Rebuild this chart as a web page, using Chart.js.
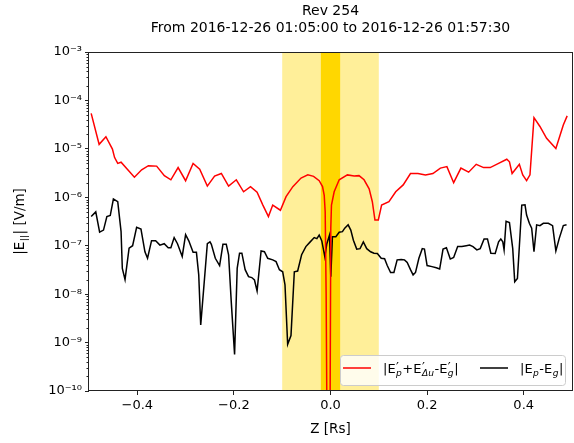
<!DOCTYPE html>
<html>
<head>
<meta charset="utf-8">
<script src="https://cdn.jsdelivr.net/npm/chart.js@4.4.1/dist/chart.umd.min.js"></script>
<style>
	html, body { margin: 0; padding: 0; background: #fff; }
</style>
</head>
<body>
<canvas id="myChart" width="574" height="443"></canvas>
<script>
//****chart data
var titleLines = ['Rev 254', 'From 2016-12-26 01:05:00 to 2016-12-26 01:57:30'];
var xLabel = 'Z [Rs]';
var xTicks = [-0.4, -0.2, 0.0, 0.2, 0.4];
var yTicks = [1e-10, 1e-9, 1e-8, 1e-7, 1e-6, 1e-5, 1e-4, 1e-3];
var outerBand = [-0.1, 0.1];
var innerBand = [-0.02, 0.02];

// |E'p+E'du-E'g| (red)
var redZ = [-0.4955, -0.479, -0.465, -0.4515, -0.447, -0.4405, -0.4336, -0.406, -0.391, -0.377,
	-0.360, -0.344, -0.3305, -0.3155, -0.300, -0.2845, -0.2708, -0.255, -0.240, -0.226,
	-0.211, -0.195, -0.180, -0.1656, -0.152, -0.140, -0.1285, -0.1196, -0.1037, -0.092,
	-0.078, -0.061, -0.047, -0.035, -0.0234, -0.0165, -0.013, -0.011, -0.009, -0.0065,
	-0.0015, 0.0006, 0.002, 0.0076, 0.018, 0.035, 0.049, 0.059, 0.0695, 0.080,
	0.0866, 0.092, 0.099, 0.1058, 0.121, 0.135, 0.1505, 0.1656, 0.181, 0.1966,
	0.212, 0.2275, 0.241, 0.255, 0.270, 0.286, 0.3017, 0.317, 0.3306, 0.348,
	0.365, 0.3705, 0.376, 0.391, 0.398, 0.406, 0.413, 0.4213, 0.4336, 0.4474,
	0.4666, 0.482, 0.490];
var redE = [5.4e-5, 1.24e-5, 1.78e-5, 9.9e-6, 6.6e-6, 5.0e-6, 5.3e-6, 2.6e-6, 3.7e-6, 4.5e-6,
	4.4e-6, 2.8e-6, 2.3e-6, 4.1e-6, 2.2e-6, 5.0e-6, 3.8e-6, 1.7e-6, 2.75e-6, 3.1e-6,
	1.7e-6, 2.3e-6, 1.3e-6, 1.66e-6, 1.27e-6, 6.9e-7, 4.0e-7, 6.9e-7, 5.4e-7, 1.03e-6,
	1.66e-6, 2.5e-6, 2.9e-6, 2.7e-6, 2.2e-6, 1.66e-6, 1.1e-6, 5e-7, 9.5e-9, 1e-12,
	1e-12, 2.3e-7, 6.9e-7, 1.3e-6, 2.3e-6, 2.9e-6, 2.75e-6, 2.8e-6, 2.3e-6, 1.5e-6,
	8.1e-7, 3.4e-7, 3.4e-7, 6.9e-7, 8.1e-7, 1.3e-6, 1.8e-6, 3.1e-6, 3.1e-6, 2.9e-6,
	3.1e-6, 4.0e-6, 4.3e-6, 2.0e-6, 4.0e-6, 3.3e-6, 4.8e-6, 4.1e-6, 4.1e-6, 5.0e-6,
	6.1e-6, 5.4e-6, 3.1e-6, 4.8e-6, 2.9e-6, 2.2e-6, 2.9e-6, 4.4e-5, 2.9e-5, 1.65e-5,
	1.02e-5, 3.1e-5, 4.8e-5];

// |Ep-Eg| (black)
var blackZ = [-0.4955, -0.486, -0.478, -0.470, -0.463, -0.456, -0.4495, -0.4405, -0.4336, -0.431,
	-0.4254, -0.417, -0.4097, -0.4014, -0.3924, -0.3842, -0.3788, -0.3705, -0.362, -0.3532,
	-0.3443, -0.336, -0.3305, -0.3237, -0.3168, -0.307, -0.300, -0.2934, -0.2845, -0.2776,
	-0.2728, -0.2687, -0.2619, -0.255, -0.2495, -0.2467, -0.2385, -0.2296, -0.2227, -0.2158,
	-0.211, -0.2055, -0.1986, -0.1932, -0.1883, -0.1835, -0.1767, -0.1697, -0.163, -0.1574,
	-0.152, -0.1437, -0.1368, -0.130, -0.1196, -0.1127, -0.1058, -0.099, -0.0942, -0.0887,
	-0.0818, -0.0749, -0.068, -0.0598, -0.051, -0.042, -0.0337, -0.0282, -0.0234, -0.018,
	-0.0117, -0.0076, -0.002, 0.0006, 0.004, 0.011, 0.018, 0.0247, 0.0295, 0.0365,
	0.042, 0.0474, 0.0543, 0.0612, 0.068, 0.075, 0.0831, 0.090, 0.097, 0.105,
	0.112, 0.1175, 0.1244, 0.1313, 0.138, 0.1464, 0.1532, 0.1588, 0.1656, 0.171,
	0.176, 0.183, 0.190, 0.1945, 0.200, 0.210, 0.219, 0.226, 0.233, 0.240,
	0.248, 0.255, 0.2633, 0.272, 0.281, 0.288, 0.295, 0.303, 0.310, 0.318,
	0.325, 0.332, 0.341, 0.348, 0.3526, 0.3567, 0.3594, 0.3635, 0.3705, 0.3773,
	0.3814, 0.387, 0.3924, 0.396, 0.4027, 0.406, 0.4117, 0.4165, 0.4213, 0.4268,
	0.4336, 0.4406, 0.451, 0.4598, 0.4666, 0.4736, 0.482, 0.4887];
var blackE = [4.0e-7, 5.0e-7, 1.9e-7, 2.1e-7, 4.0e-7, 4.2e-7, 9.2e-7, 8.1e-7, 1.95e-7, 3.4e-8,
	2.0e-8, 8.9e-8, 1.0e-7, 2.4e-7, 2.2e-7, 7.5e-8, 5.5e-8, 1.27e-7, 1.27e-7, 1.03e-7,
	1.1e-7, 9.1e-8, 9.1e-8, 1.47e-7, 1.1e-7, 6.0e-8, 1.7e-7, 1.26e-7, 7.3e-8, 7.3e-8,
	2.5e-8, 2.3e-9, 1.55e-8, 1.1e-7, 1.2e-7, 1.07e-7, 5.5e-8, 3.9e-8, 1.07e-7, 1.07e-7,
	6.5e-8, 7.0e-9, 5.7e-10, 3.4e-8, 7.0e-8, 7.0e-8, 3.2e-8, 2.3e-8, 2.2e-8, 1.96e-8,
	1.16e-8, 7.8e-8, 7.5e-8, 5.5e-8, 5.1e-8, 4.7e-8, 3.2e-8, 2.9e-8, 1.55e-8, 9.2e-10,
	1.4e-9, 2.9e-8, 3.0e-8, 6.5e-8, 9.6e-8, 1.2e-7, 1.47e-7, 1.4e-7, 1.66e-7, 1.26e-7,
	5.9e-8, 1.1e-7, 1.66e-7, 2.3e-8, 1.53e-7, 1.53e-7, 1.9e-7, 1.95e-7, 2.3e-7, 2.7e-7,
	2.1e-7, 1.3e-7, 8.5e-8, 8.7e-8, 1.2e-7, 8.7e-8, 7.5e-8, 7.0e-8, 6.9e-8, 5.5e-8,
	5.4e-8, 3.9e-8, 2.8e-8, 2.8e-8, 5.1e-8, 5.2e-8, 5.1e-8, 4.5e-8, 3.2e-8, 2.5e-8,
	2.8e-8, 5.5e-8, 8.7e-8, 8.5e-8, 3.9e-8, 3.7e-8, 3.5e-8, 3.3e-8, 8.5e-8, 9.1e-8,
	5.3e-8, 5.7e-8, 9.6e-8, 9.6e-8, 1.0e-7, 1.03e-7, 9.6e-8, 8.2e-8, 8.7e-8, 1.38e-7,
	1.38e-7, 7.0e-8, 6.9e-8, 1.2e-7, 1.38e-7, 1.2e-7, 8.2e-8, 3.2e-7, 3.0e-7, 8.7e-8,
	1.8e-8, 2.1e-8, 1.66e-7, 6.9e-7, 7.0e-7, 4.3e-7, 2.9e-7, 2.3e-7, 7.5e-8, 2.7e-7,
	2.6e-7, 2.9e-7, 2.9e-7, 2.6e-7, 7.8e-8, 1.42e-7, 2.6e-7, 2.7e-7];

// rich text pieces: [text] or [superscript, subscript]
var legendLabels = [
	[['|E'], ['\u2032', 'p'], ['+E'], ['\u2032', '\u0394u'], ['-E'], ['\u2032', 'g'], ['|']],
	[['|E'], ['', 'p'], ['-E'], ['', 'g'], ['|']]
];
var yLabel = [['|E'], ['', '||'], ['| [V/m]']];
var lineColors = ['#ff0000', '#000000'];

var FONT = '"DejaVu Sans", sans-serif';
var SUP = {'-': '\u207b', '0': '\u2070', '1': '\u00b9', '2': '\u00b2', '3': '\u00b3', '4': '\u2074',
	'5': '\u2075', '6': '\u2076', '7': '\u2077', '8': '\u2078', '9': '\u2079'};

function pairs(zs, es){
	var out = [];
	zs.forEach(function(z, i){
		out.push({x: z, y: es[i]});
	});
	return out;
}

//rich text helpers (subscripts / primes)
function richWidth(ctx, parts, size){
	var w = 0;
	parts.forEach(function(p){
		if(p.length == 1){
			ctx.font = size + 'px ' + FONT;
			w += ctx.measureText(p[0]).width;
		}else{
			ctx.font = size + 'px ' + FONT;
			var a = ctx.measureText(p[0]).width;
			ctx.font = 'italic ' + (size * 0.7) + 'px ' + FONT;
			var b = ctx.measureText(p[1]).width;
			w += Math.max(a, b) + 1;
		}
	});
	return w;
}
function drawRich(ctx, parts, x, y, size){
	ctx.textBaseline = 'alphabetic';
	ctx.textAlign = 'left';
	parts.forEach(function(p){
		if(p.length == 1){
			ctx.font = size + 'px ' + FONT;
			ctx.fillText(p[0], x, y);
			x += ctx.measureText(p[0]).width;
		}else{
			ctx.font = size + 'px ' + FONT;
			ctx.fillText(p[0], x + 0.5, y - size * 0.12);
			var a = ctx.measureText(p[0]).width;
			ctx.font = 'italic ' + (size * 0.7) + 'px ' + FONT;
			ctx.fillText(p[1], x + 0.5, y + size * 0.22);
			var b = ctx.measureText(p[1]).width;
			x += Math.max(a, b) + 1;
		}
	});
}

var decor = {
	id: 'decor',
	beforeDatasetsDraw: function(chart){
		var ctx = chart.ctx, a = chart.chartArea, x = chart.scales.x;
		ctx.save();
		var x0 = x.getPixelForValue(outerBand[0]), x1 = x.getPixelForValue(outerBand[1]);
		ctx.fillStyle = 'rgba(255, 215, 0, 0.4)';
		ctx.fillRect(x0, a.top, x1 - x0, a.bottom - a.top);
		x0 = x.getPixelForValue(innerBand[0]); x1 = x.getPixelForValue(innerBand[1]);
		ctx.fillStyle = '#ffd700';
		ctx.fillRect(x0, a.top, x1 - x0, a.bottom - a.top);
		ctx.restore();
	},
	afterDraw: function(chart){
		var ctx = chart.ctx, a = chart.chartArea, y = chart.scales.y;
		ctx.save();
		//frame
		ctx.strokeStyle = '#222';
		ctx.lineWidth = 1;
		ctx.strokeRect(Math.round(a.left) - 0.5, Math.round(a.top) + 0.5, Math.round(a.right - a.left) + 1, Math.round(a.bottom - a.top) - 1);
		//minor log ticks
		ctx.beginPath();
		for(var d = -10; d < -3; d++){
			for(var m = 2; m < 10; m++){
				var py = Math.round(y.getPixelForValue(m * Math.pow(10, d))) + 0.5;
				ctx.moveTo(a.left - 2.5, py);
				ctx.lineTo(a.left, py);
			}
		}
		ctx.stroke();

		//title
		ctx.fillStyle = '#000';
		ctx.textAlign = 'center';
		ctx.textBaseline = 'alphabetic';
		ctx.font = '14px ' + FONT;
		var cx = (a.left + a.right) / 2;
		ctx.fillText(titleLines[0], cx, 15);
		ctx.fillText(titleLines[1], cx, 32);

		//y label
		ctx.save();
		ctx.translate(24, (a.top + a.bottom) / 2);
		ctx.rotate(-Math.PI / 2);
		var w = richWidth(ctx, yLabel, 13.5);
		drawRich(ctx, yLabel, -w / 2, 0, 13.5);
		ctx.restore();

		//legend
		var lx = a.right - 232, ly = a.bottom - 36, lw = 225, lh = 30;
		ctx.fillStyle = 'rgba(255, 255, 255, 0.8)';
		ctx.strokeStyle = '#cccccc';
		ctx.beginPath();
		ctx.roundRect(lx + 0.5, ly + 0.5, lw, lh, 3);
		ctx.fill();
		ctx.stroke();
		var hx = [lx + 3, lx + 140];
		legendLabels.forEach(function(lab, i){
			ctx.strokeStyle = lineColors[i];
			ctx.lineWidth = 1.5;
			ctx.beginPath();
			ctx.moveTo(hx[i], ly + 13);
			ctx.lineTo(hx[i] + 28, ly + 13);
			ctx.stroke();
			ctx.fillStyle = '#000';
			drawRich(ctx, lab, hx[i] + 40, ly + 18, 13);
		});
		ctx.restore();
	}
};

var ctx = document.getElementById('myChart');
var myChart = new Chart(ctx, {
	type: 'line',
	data: {
		datasets: [{
			label: 'red',
			data: pairs(redZ, redE),
			borderColor: lineColors[0],
			borderWidth: 1.5,
			pointRadius: 0,
			tension: 0
		},{
			label: 'black',
			data: pairs(blackZ, blackE),
			borderColor: lineColors[1],
			borderWidth: 1.5,
			pointRadius: 0,
			tension: 0
		}]
	},
	options: {
		responsive: false,
		animation: false,
		layout: {
			padding: {top: 52, right: 2, left: 0, bottom: 0}
		},
		plugins: {
			legend: {display: false},
			tooltip: {enabled: false},
			title: {display: false}
		},
		scales: {
			x: {
				type: 'linear',
				min: -0.5,
				max: 0.5,
				afterBuildTicks: function(scale){
					scale.ticks = xTicks.map(function(v){ return {value: v}; });
				},
				afterFit: function(scale){ scale.height = 52; },
				grid: {drawOnChartArea: false, drawTicks: true, tickLength: 4, tickColor: '#222'},
				border: {display: false},
				ticks: {
					autoSkip: false,
					maxRotation: 0,
					padding: 3,
					color: '#000',
					font: {family: FONT, size: 13},
					callback: function(v){ return v.toFixed(1).replace('-', '\u2212'); }
				},
				title: {
					display: true,
					text: xLabel,
					color: '#000',
					font: {family: FONT, size: 13.5},
					padding: {top: 0, bottom: 5}
				}
			},
			y: {
				type: 'logarithmic',
				min: 1e-10,
				max: 1e-3,
				afterBuildTicks: function(scale){
					scale.ticks = yTicks.map(function(v){ return {value: v}; });
				},
				afterFit: function(scale){ scale.width = 89; },
				grid: {drawOnChartArea: false, drawTicks: true, tickLength: 4, tickColor: '#222'},
				border: {display: false},
				ticks: {
					autoSkip: false,
					padding: 3,
					color: '#000',
					font: {family: FONT, size: 13},
					callback: function(v){
						var e = String(Math.round(Math.log10(v)));
						return '10' + e.split('').map(function(c){ return SUP[c]; }).join('');
					}
				}
			}
		}
	},
	plugins: [decor]
});
</script>
</body>
</html>
